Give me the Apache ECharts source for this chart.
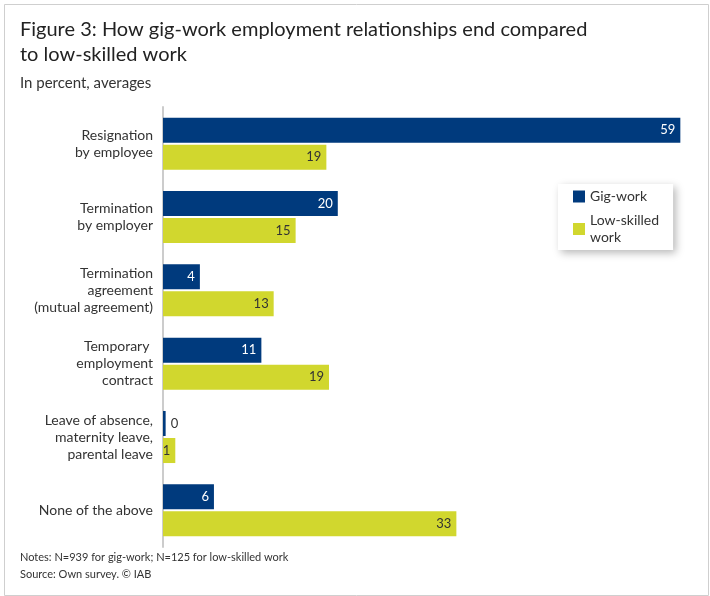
<!DOCTYPE html>
<html>
<head>
<meta charset="utf-8">
<script src="https://cdn.jsdelivr.net/npm/echarts@6/dist/echarts.min.js"></script>
<style>html,body{margin:0;padding:0;background:#fff}#c{width:710px;height:596px}</style>
</head>
<body>
<div id="c"></div>
<script>
const categories = [
  "Resignation\nby employee",
  "Termination\nby employer",
  "Termination\nagreement\n(mutual agreement)",
  "Temporary \nemployment\ncontract",
  "Leave of absence,\nmaternity leave,\nparental leave",
  "None of the above"
];
const gigWork = [58.9, 19.9, 4.2, 11.2, 0.3, 5.8];
const lowSkilled = [18.6, 15.1, 12.6, 18.9, 1.4, 33.4];
const seriesNames = ["Gig-work", "Low-skilled work"];
const FONT = "Lato";

function mkData(vals, color) {
  return vals.map(v => {
    const small = Math.round(v) === 0;
    return {
      value: v,
      label: {
        position: small ? "right" : "insideRight",
        color: small ? "#333" : color,
        distance: small ? 5 : 5
      }
    };
  });
}

const chart = echarts.init(document.getElementById("c"));
chart.setOption({
  animation: false,
  textStyle: { fontFamily: FONT },
  title: [
    { text: "Figure 3: How gig-work employment relationships end compared\nto low-skilled work", left: 15, top: 12,
      textStyle: { fontFamily: FONT, fontSize: 20, fontWeight: "normal", color: "#222", lineHeight: 25 } },
    { text: "In percent, averages", left: 15, top: 71,
      textStyle: { fontFamily: FONT, fontSize: 15, fontWeight: "normal", color: "#333" } },
    { text: "Notes: N=939 for gig-work; N=125 for low-skilled work\nSource: Own survey. © IAB", left: 15, top: 544,
      textStyle: { fontFamily: FONT, fontSize: 11, fontWeight: "normal", color: "#333", lineHeight: 17 } }
  ],
  graphic: [{
    type: "rect", left: 2, top: 2, shape: { width: 704, height: 591 },
    style: { fill: "none", stroke: "#cfcfcf", lineWidth: 1 }, silent: true
  }],
  legend: {
    orient: "vertical", left: 558, top: 184,
    padding: [4, 14, 4, 15], itemGap: 7, itemWidth: 12, itemHeight: 12,
    backgroundColor: "#fff", shadowBlur: 8, shadowColor: "rgba(0,0,0,0.28)", shadowOffsetX: 3, shadowOffsetY: 3,
    icon: "rect",
    textStyle: { fontFamily: FONT, fontSize: 14, color: "#333", lineHeight: 17 },
    formatter: n => n === "Low-skilled work" ? "Low-skilled\nwork" : n,
    data: seriesNames
  },
  grid: { left: 163, right: 20, top: 107, bottom: 49, containLabel: false },
  xAxis: { type: "value", min: 0, max: 60, show: false },
  yAxis: {
    type: "category", data: categories, inverse: true,
    axisLine: { show: true, lineStyle: { color: "#cccccc", width: 2 } },
    axisTick: { show: false },
    axisLabel: { fontFamily: FONT, fontSize: 14, color: "#333", lineHeight: 17, margin: 10 }
  },
  series: [
    { name: seriesNames[0], type: "bar", data: mkData(gigWork, "#fff"), itemStyle: { color: "#003A7D" },
      barGap: "8%", barCategoryGap: "29%",
      label: { show: true, fontFamily: FONT, fontSize: 13, formatter: p => Math.round(p.value) } },
    { name: seriesNames[1], type: "bar", data: mkData(lowSkilled, "#333"), itemStyle: { color: "#D1D72E" },
      barGap: "8%", barCategoryGap: "29%",
      label: { show: true, fontFamily: FONT, fontSize: 13, formatter: p => Math.round(p.value) } }
  ]
});
</script>
</body>
</html>
